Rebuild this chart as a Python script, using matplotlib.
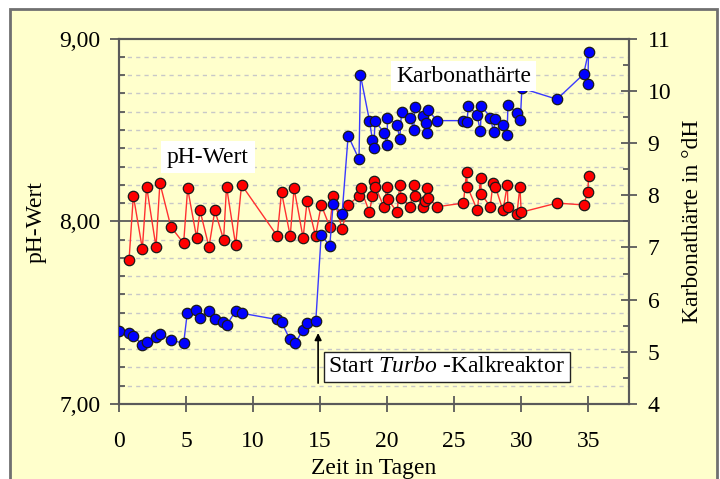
import matplotlib
matplotlib.use("Agg")
import matplotlib.pyplot as plt
from matplotlib.patches import Rectangle
from matplotlib.ticker import MultipleLocator, FixedLocator, FuncFormatter

plt.rcParams["font.family"] = ["Liberation Serif", "DejaVu Serif"]
plt.rcParams["mathtext.fontset"] = "custom"
plt.rcParams["mathtext.rm"] = "Liberation Serif"
plt.rcParams["mathtext.it"] = "Liberation Serif:italic"

# pH-Wert (left axis)
ph_days = [0.75, 1.07, 1.74, 2.06, 2.76, 3.05, 3.87, 4.82, 5.12, 5.79,
           6.04, 6.71, 7.15, 7.80, 8.02, 8.70, 9.14, 11.80, 12.12, 12.77,
           13.06, 13.73, 14.03, 14.66, 15.08, 15.72, 15.97, 16.64, 17.11, 17.90,
           18.03, 18.68, 18.90, 19.00, 19.12, 19.75, 19.99, 20.07, 20.74, 20.94,
           21.06, 21.73, 21.98, 22.06, 22.70, 22.83, 22.95, 23.05, 23.72, 25.69,
           25.92, 25.98, 26.73, 26.97, 27.02, 27.69, 27.89, 28.07, 28.64, 28.96,
           29.01, 29.68, 29.90, 30.00, 32.66, 34.65, 34.97, 35.02]
ph_vals = [7.79, 8.14, 7.85, 8.19, 7.86, 8.21, 7.97, 7.88, 8.18, 7.91,
           8.06, 7.86, 8.06, 7.90, 8.19, 7.87, 8.20, 7.92, 8.16, 7.92,
           8.18, 7.91, 8.11, 7.92, 8.09, 7.97, 8.14, 7.96, 8.09, 8.14,
           8.18, 8.05, 8.14, 8.22, 8.19, 8.08, 8.19, 8.12, 8.05, 8.20,
           8.13, 8.08, 8.20, 8.14, 8.08, 8.11, 8.18, 8.13, 8.08, 8.10,
           8.27, 8.19, 8.06, 8.24, 8.15, 8.08, 8.21, 8.19, 8.06, 8.20,
           8.08, 8.04, 8.19, 8.05, 8.10, 8.09, 8.16, 8.25]

# Karbonathaerte (right axis)
kh_days = [0.0, 0.75, 1.07, 1.72, 2.06, 2.76, 3.06, 3.87, 4.82, 5.09,
           5.74, 6.04, 6.68, 7.15, 7.77, 8.02, 8.69, 9.14, 11.75, 12.12,
           12.74, 13.12, 13.73, 14.03, 14.68, 15.08, 15.72, 15.97, 16.64, 17.09,
           17.90, 18.01, 18.68, 18.90, 19.00, 19.10, 19.75, 20.00, 20.02, 20.74,
           20.94, 21.07, 21.73, 21.98, 22.06, 22.71, 22.88, 22.97, 23.05, 23.72,
           25.69, 25.95, 26.06, 26.70, 26.95, 27.03, 27.70, 27.94, 28.04, 28.64,
           28.94, 29.01, 29.68, 29.93, 30.05, 32.66, 34.65, 35.02, 34.97]
kh_vals = [5.39, 5.37, 5.31, 5.14, 5.19, 5.29, 5.35, 5.23, 5.16, 5.74,
           5.80, 5.64, 5.78, 5.62, 5.57, 5.51, 5.78, 5.74, 5.62, 5.57,
           5.24, 5.16, 5.42, 5.55, 5.60, 7.24, 7.03, 7.83, 7.65, 9.14,
           8.69, 10.30, 9.43, 9.06, 8.91, 9.43, 9.20, 8.96, 9.49, 9.35,
           9.07, 9.60, 9.49, 9.25, 9.69, 9.52, 9.38, 9.20, 9.63, 9.43,
           9.43, 9.40, 9.71, 9.54, 9.23, 9.71, 9.49, 9.21, 9.46, 9.35,
           9.15, 9.73, 9.57, 9.44, 10.05, 9.84, 10.32, 10.75, 10.13]

x_ticks = [0, 5, 10, 15, 20, 25, 30, 35]
start_day = 14.85

bg = "#ffffcc"
frame = "#5a5a5a"
fs = 17

fig = plt.figure(figsize=(7.2, 4.79), dpi=100, facecolor="white")
fig.patches.append(Rectangle((10 / 720, -0.1), 707 / 720, 0.1 + 470 / 479,
                             transform=fig.transFigure, facecolor=bg,
                             edgecolor="#707070", lw=2, zorder=-10))

ax1 = fig.add_axes([119 / 720, 75 / 479, 509.5 / 720, 365.3 / 479])
ax1.set_facecolor(bg)
ax2 = ax1.twinx()

ax1.set_xlim(0, 38)
ax1.set_ylim(7, 9)
ax2.set_ylim(4, 11)

# left axis
ax1.yaxis.set_major_locator(FixedLocator([7, 8, 9]))
ax1.yaxis.set_minor_locator(MultipleLocator(0.1))
ax1.yaxis.set_major_formatter(FuncFormatter(lambda v, p: f"{v:.2f}".replace(".", ",")))
ax1.grid(True, which="minor", axis="y", color="#c8c8c8", ls=(0, (3, 3)), lw=1)
ax1.grid(True, which="major", axis="y", color=frame, ls="-", lw=1.3)
ax1.set_axisbelow(True)
ax1.tick_params(axis="y", which="major", direction="out", length=6.5, width=1.3,
                color=frame, labelsize=fs, pad=7)
ax1.tick_params(axis="y", which="minor", direction="in", length=4.3, width=1.3,
                color=frame)

# bottom axis
ax1.set_xticks(x_ticks)
ax1.tick_params(axis="x", which="major", direction="inout", length=11.5, width=1.3,
                color=frame, labelsize=fs, pad=14)

# right axis
ax2.yaxis.set_major_locator(MultipleLocator(1))
ax2.yaxis.set_minor_locator(MultipleLocator(0.5))
ax2.tick_params(axis="y", which="major", direction="inout", length=11.5, width=1.3,
                color=frame, labelsize=fs, pad=8)
ax2.tick_params(axis="y", which="minor", direction="in", length=4.3, width=1.3,
                color=frame)

for ax in (ax1, ax2):
    for sp in ax.spines.values():
        sp.set_color(frame)
        sp.set_linewidth(1.5)

ax1.plot(ph_days, ph_vals, color="#ff3030", lw=1, marker="o", ms=7.5,
         mfc="#ff0000", mec="#1a1a1a", mew=0.9, zorder=3)
ax2.plot(kh_days, kh_vals, color="#3a3aff", lw=1, marker="o", ms=7.5,
         mfc="#0000ff", mec="#1a1a1a", mew=0.9, zorder=3)

ax1.text(6.63, 8.352, "pH-Wert", fontsize=fs, ha="center", va="center",
         bbox=dict(boxstyle="square,pad=0.25", fc="white", ec="none"), zorder=6)
ax2.text(25.7, 10.285, "Karbonathärte", fontsize=fs, ha="center", va="center",
         bbox=dict(boxstyle="square,pad=0.2", fc="white", ec="none"), zorder=6)
ax2.text(24.44, 4.71, r"Start $\mathit{Turbo}$ -Kalkreaktor", fontsize=fs,
         ha="center", va="center",
         bbox=dict(boxstyle="square,pad=0.2", fc="white", ec="#222222", lw=1), zorder=6)
ax2.annotate("", xy=(start_day, 5.36), xytext=(start_day, 4.40),
             arrowprops=dict(arrowstyle="-|>", color="black", lw=1.2,
                             mutation_scale=10, shrinkA=0, shrinkB=0), zorder=6)

fig.text(36 / 720, 1 - 222 / 479, "pH-Wert", fontsize=fs, rotation=90,
         ha="center", va="center")
fig.text(693 / 720, 1 - 221 / 479, "Karbonathärte in °dH", fontsize=fs, rotation=90,
         ha="center", va="center")
fig.text(374 / 720, 5 / 479, "Zeit in Tagen", fontsize=fs, ha="center", va="baseline")

fig.savefig("out.png", dpi=100, facecolor="white")
